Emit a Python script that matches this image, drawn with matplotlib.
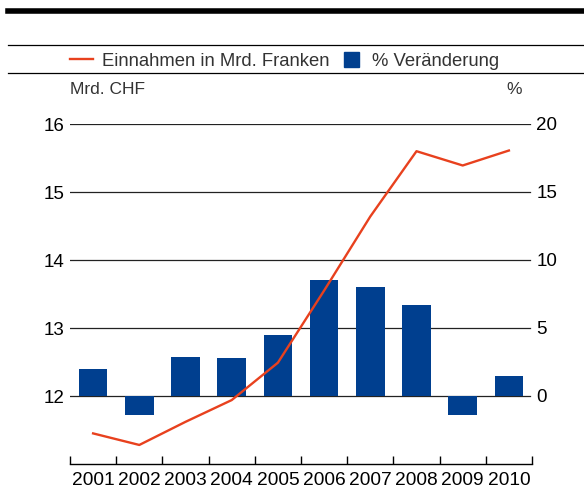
from matplotlib import pyplot as plt
from matplotlib.lines import Line2D
import numpy as np

plt.rcParams.update({"font.family": "Liberation Sans"})
plt.rcParams.update({"font.size": 12.5})

years = ["2001", "2002", "2003", "2004", "2005", "2006", "2007", "2008", "2009", "2010"]
revenue = [11.45, 11.28, 11.62, 11.94, 12.49, 13.55, 14.64, 15.60, 15.39, 15.61]
change = [2.0, -1.4, 2.9, 2.8, 4.5, 8.5, 8.0, 6.7, -1.4, 1.5]

blue = "#003f8f"
red = "#e8411e"
txt = "#333333"

fig = plt.figure(figsize=(5.84, 4.88), dpi=100)

# bars on the primary axes (percent, right side), line on the twin (CHF, left)
ax = fig.add_axes([70 / 584, 1 - 464 / 488, 462 / 584, 340 / 488])
ax2 = ax.twinx()

x = np.arange(len(years))
ax.bar(x, change, width=0.62, color=blue, zorder=3)
ax.set_ylim(-5, 20)
ax.set_yticks([0, 5, 10, 15, 20])
for v in [0, 5, 10, 15, 20]:
    ax.axhline(v, xmin=0, xmax=460 / 462, color="#222222", lw=0.9, zorder=1)
ax.yaxis.tick_right()
ax.tick_params(axis="y", length=0, pad=3, labelcolor="black", labelsize=13.5)

ax2.plot(x, revenue, color=red, lw=1.7, zorder=4)
ax2.set_ylim(11, 16)
ax2.set_yticks([12, 13, 14, 15, 16])
ax2.yaxis.tick_left()
ax2.tick_params(axis="y", length=0, pad=4, labelcolor="black", labelsize=13.5)

ax.set_xlim(-0.5, len(years) - 0.5)
ax.set_xticks(x)
ax.set_xticklabels(years)
ax.set_xticks(np.arange(len(years) + 1) - 0.5, minor=True)
ax.tick_params(axis="x", which="major", length=0, pad=5.5, labelsize=13.8)
ax.tick_params(axis="x", which="minor", direction="in", length=6, width=1)

for a in (ax, ax2):
    for s in ["top", "left", "right"]:
        a.spines[s].set_visible(False)
    a.spines["bottom"].set_linewidth(1)
ax2.spines["bottom"].set_visible(False)

# header rules
fig.add_artist(Line2D([8 / 584, 1], [1 - 11 / 488] * 2, color="black", lw=4))
fig.add_artist(Line2D([8 / 584, 1], [1 - 44.5 / 488] * 2, color="black", lw=0.9))
fig.add_artist(Line2D([8 / 584, 1], [1 - 72.5 / 488] * 2, color="black", lw=0.9))

handles = [
    Line2D([], [], color=red, lw=1.7),
    Line2D([], [], color=blue, marker="s", lw=0, markersize=10.8),
]
fig.legend(
    handles,
    ["Einnahmen in Mrd. Franken", "% Veränderung"],
    loc="center left",
    bbox_to_anchor=(70 / 584, 1 - 61 / 488),
    ncol=2,
    frameon=False,
    fontsize=13.3,
    handlelength=1.25,
    handletextpad=0.49,
    columnspacing=0.55,
    borderpad=0,
    borderaxespad=0,
    labelcolor=txt,
)

fig.text(70 / 584, 1 - 90 / 488, "Mrd. CHF", ha="left", va="center", color=txt)
fig.text(522 / 584, 1 - 90 / 488, "%", ha="right", va="center", color=txt)

fig.savefig("out.png", dpi=100)
